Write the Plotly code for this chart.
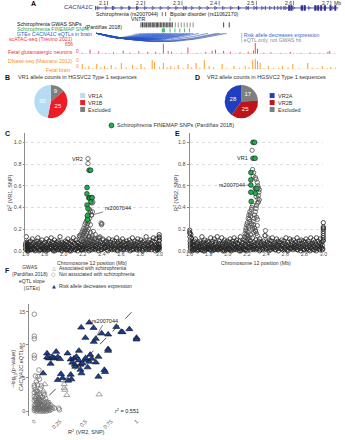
import numpy as np
import plotly.graph_objects as go

W, H = 345, 440
FONT = "Liberation Sans, Arial, Helvetica, sans-serif"


def px(x):
    return x / W


def py(y):
    return 1 - y / H


# ---------------- Panel A data ----------------
scale_ticks = [2.1, 2.2, 2.3, 2.4, 2.5, 2.6, 2.7]
gene_span = [2.067, 2.720]
gene_exons = [2.068, 2.113, 2.158, 2.179, 2.311, 2.452, 2.478, 2.501, 2.524, 2.548, 2.566, 2.574]
gene_big_exons = [2.588, 2.594, 2.623, 2.630, 2.658, 2.666, 2.674, 2.684, 2.699, 2.712]
gwas_marks = [2.247, 2.256]
vntr_mark = [2.268]
gwas_snps = [2.190, 2.194, 2.198, 2.201, 2.205, 2.209, 2.212, 2.216, 2.220, 2.223, 2.227, 2.231,
             2.234, 2.238, 2.242, 2.246, 2.250, 2.254, 2.258, 2.262, 2.266, 2.270, 2.274]
gwas_snps_sparse = [2.282, 2.290, 2.298, 2.306, 2.314, 2.322, 2.330]
gwas_snps_far = [2.412, 2.427]
finemap_snps = [2.247, 2.249, 2.251, 2.253, 2.268, 2.281, 2.294, 2.307, 2.320]
eqtl_anchor = 2.071
eqtl_blue = [2.190, 2.197, 2.204, 2.210, 2.216, 2.222, 2.228, 2.234, 2.240, 2.246, 2.252, 2.258,
             2.264, 2.270, 2.276, 2.283, 2.290, 2.298, 2.306, 2.314, 2.322, 2.330, 2.345, 2.370,
             2.400, 2.420]
eqtl_gray = [2.180, 2.392, 2.404, 2.412]

atac_pos = [2.032, 2.053, 2.076, 2.095, 2.116, 2.142, 2.160, 2.184, 2.208, 2.229, 2.250, 2.263,
            2.272, 2.299, 2.316, 2.340, 2.364, 2.381, 2.390, 2.412, 2.430, 2.456, 2.478, 2.492,
            2.497, 2.503, 2.520, 2.539, 2.565, 2.591, 2.620, 2.644, 2.670, 2.692, 2.697]
atac_val = [60, 250, 140, 50, 90, 180, 70, 140, 110, 120, 600, 160, 120, 60, 380, 50, 110, 180,
            240, 170, 110, 90, 120, 200, 640, 300, 60, 90, 50, 110, 50, 80, 50, 110, 170]
atac_minor_pos = [2.040, 2.065, 2.085, 2.105, 2.125, 2.150, 2.175, 2.195, 2.215, 2.240, 2.285,
                  2.310, 2.330, 2.350, 2.372, 2.400, 2.420, 2.445, 2.465, 2.485, 2.515, 2.530,
                  2.550, 2.580, 2.600, 2.610, 2.630, 2.655, 2.680, 2.710]
atac_minor_val = [20, 30, 15, 25, 20, 35, 15, 30, 25, 40, 20, 30, 15, 25, 20, 30, 15, 20, 25, 30,
                  20, 15, 25, 20, 30, 15, 20, 25, 15, 20]
dnase_pos = [2.032, 2.050, 2.071, 2.092, 2.110, 2.137, 2.167, 2.190, 2.220, 2.226, 2.250, 2.270,
             2.290, 2.316, 2.338, 2.360, 2.373, 2.408, 2.440, 2.470, 2.490, 2.497, 2.503, 2.510,
             2.532, 2.570, 2.598, 2.638, 2.677, 2.700]
dnase_val = [0.5, 0.3, 0.5, 0.3, 0.4, 0.6, 0.4, 0.5, 0.9, 0.7, 0.6, 0.3, 0.4, 0.5, 0.6, 0.9, 0.3,
             0.5, 0.3, 0.3, 0.9, 1.0, 0.8, 0.6, 0.3, 0.3, 0.5, 0.6, 0.3, 0.2]
dnase_minor_pos = [2.040, 2.060, 2.082, 2.100, 2.122, 2.150, 2.178, 2.200, 2.240, 2.260, 2.280,
                   2.303, 2.326, 2.348, 2.385, 2.420, 2.455, 2.480, 2.520, 2.545, 2.560, 2.585,
                   2.615, 2.650, 2.665, 2.690, 2.712]
dnase_minor_val = [0.15, 0.1, 0.2, 0.12, 0.15, 0.2, 0.1, 0.15, 0.25, 0.2, 0.15, 0.1, 0.2, 0.15,
                   0.2, 0.1, 0.15, 0.2, 0.12, 0.1, 0.15, 0.2, 0.1, 0.15, 0.12, 0.1, 0.15]

# ---------------- Panels B / D ----------------
vr1_labels = ["Excluded", "VR1B", "VR1A"]
vr1_counts = [9, 25, 30]
vr2_labels = ["Excluded", "VR2B", "VR2A"]
vr2_counts = [17, 25, 28]

# ---------------- Panels C / E (SNP positions in kb, R2 in hundredths) ----------------
BG_KB = """
1601 1604 1609 1612 1618 1621 1627 1633 1636 1641 1645 1652 1655 1661 1668 1672 1676 1683 1688 1691
1697 1704 1708 1713 1719 1722 1729 1734 1738 1745 1749 1753 1760 1764 1771 1775 1779 1786 1790 1796
1801 1805 1812 1817 1821 1828 1832 1838 1843 1847 1853 1859 1862 1869 1874 1878 1885 1889 1894 1900
1903 1910 1915 1919 1926 1930 1936 1941 1945 1952 1956 1961 1967 1972 1977 1983 1987 1993 1998 2003
2009 2014 2018 2024 2029 2033 2040 2044 2050 2055 2059 2066 2070 2076 2081 2085 2092 2097 2101 2107
2112 2117 2123 2128 2132 2139 2143 2149 2154 2158 2165 2169 2175 2180 2186 2191 2196 2202 2207 2213
2218 2224 2229 2235 2240 2246 2251 2257 2262 2268 2273 2279 2284 2290 2295 2301 2306 2312 2317 2323
2328 2334 2339 2345 2350 2356 2361 2367 2372 2378 2383 2389 2394 2400 2405 2411 2416 2422 2427 2433
2438 2444 2449 2455 2460 2466 2471 2477 2482 2488 2493 2499 2504 2510 2515 2521 2526 2532 2537 2543
2548 2554 2559 2565 2570 2576 2581 2587 2592 2598 2603 2609 2614 2620 2625 2631 2636 2642 2647 2653
2658 2664 2669 2675 2680 2686 2691 2697 2702 2708 2713 2719 2724 2730 2735 2741 2746 2752 2757 2763
2768 2774 2779 2785 2790 2796 2801 2807 2812 2818 2823 2829 2834 2840 2845 2851 2856 2862 2867 2873
2878 2884 2889 2895 2900 2906 2911 2917 2922 2928 2933 2939 2944 2950 2955 2961 2966 2972 2977 2983
2988 2993 2997 2999 2999 2999 2999 2999 1602 1603 1605 1607 1610 1614 1616 1619 2999 2998 2999 2998
1606 1624 1648 1679 1700 1726 1756 1782 1809 1835 1866 1891 1922 1948 1979 2006 2036 2062 2088 2120
2146 2172 2199 2232 2265 2298 2331 2364 2397 2430 2463 2496 2529 2562 2595 2628 2661 2694 2727 2760
2793 2826 2859 2892 2925 2958 2980 2991 1630 1658 1694 1742 1793 1850 1907 1964 2021 2078 2135 2187
"""
VR1_BG = """
5 2 13 4 7 1 6 3 8 2 5 9 1 4 6 11 3 7 2 5
8 1 6 4 9 3 12 2 7 5 1 8 4 6 10 2 5 3 7 1
4 8 2 6 11 3 5 1 7 9 2 4 6 12 3 8 1 5 7 2
10 4 6 3 8 1 5 9 2 7 4 13 3 6 1 8 5 2 7 4
6 3 9 1 5 8 2 11 4 7 3 6 1 9 5 2 8 4 12 3
7 1 6 10 2 5 8 3 7 4 14 2 6 9 1 5 3 8 2 6
4 7 1 10 5 3 8 2 6 13 4 1 7 5 9 3 6 2 8 11
4 1 5 7 3 9 2 6 12 4 8 1 5 3 7 10 2 6 4 8
3 5 9 1 7 4 11 2 6 8 3 5 1 10 4 7 2 9 5 3
6 12 1 8 4 7 2 5 9 3 6 1 11 4 8 2 5 7 3 6
9 1 4 7 2 10 5 3 8 1 6 12 4 2 7 5 9 3 6 1
8 11 4 2 5 7 3 10 6 1 8 4 2 9 5 3 7 13 1 6
4 8 2 5 10 3 7 1 6 9 4 12 2 8 5 3 11 6 1 4
2 6 3 15 12 9 6 3 7 4 1 5 2 8 3 6 10 4 1 13
1 0 2 1 0 3 1 2 0 1 2 0 3 1 0 2 1 0 2 1
0 3 1 2 0 1 2 0 1 3 0 2 1 0 2 1 3 0 1 2
1 0 2 1 3 0 1 2 0 1 2 0 1 3 0 2 1 0 2 1
"""
VR2_BG = """
19 16 3 7 12 2 5 8 1 6 4 9 2 11 5 3 7 1 8 4
6 2 9 4 1 7 13 3 5 8 2 6 10 4 1 7 3 9 5 2
8 3 6 1 12 4 7 2 9 5 3 11 1 6 8 2 4 13 3 7
1 9 5 3 7 2 12 4 6 1 8 3 10 5 2 7 4 9 1 6
3 8 2 11 5 1 7 4 9 3 6 12 2 5 8 1 10 4 7 3
6 2 9 4 13 1 5 8 3 7 2 10 4 6 1 9 5 3 11 7
2 6 4 9 1 7 3 12 5 2 8 4 6 1 10 3 7 5 2 9
4 11 1 6 8 3 5 2 9 7 4 14 3 6 1 8 5 2 7 10
3 6 1 9 4 12 2 7 5 3 8 1 6 11 4 2 9 5 7 3
8 2 5 10 1 6 4 9 3 7 2 12 5 1 8 4 6 3 11 2
5 9 3 7 1 10 4 6 2 8 5 3 12 1 7 4 9 2 6 3
10 4 7 2 9 5 1 8 3 11 6 2 4 9 1 7 5 3 12 6
2 7 4 10 5 1 8 3 6 12 2 5 9 4 7 1 11 6 3 8
5 2 9 26 21 18 14 10 17 13 9 6 4 15 11 7 20 16 22 12
0 2 1 0 3 1 0 2 1 0 3 1 2 0 1 2 0 1 3 0
2 1 0 3 1 2 0 1 2 0 3 1 0 2 1 0 2 3 1 0
1 2 0 1 0 2 3 1 0 2 1 0 3 1 2 0 1 2 0 1
"""
bg_pos = [int(v) / 1000 for v in BG_KB.split()]
vr1_bg = [int(v) / 100 for v in VR1_BG.split()]
vr2_bg = [int(v) / 100 for v in VR2_BG.split()]

# peak-region SNPs (Mb, R2)
c_peak_pts = [(2.254, 0.85), (2.254, 0.805), (2.298, 0.44), (2.305, 0.45), (2.390, 0.257),
              (2.400, 0.25), (2.395, 0.24), (2.27, 0.38), (2.28, 0.36), (2.26, 0.34), (2.29, 0.33),
              (2.25, 0.31), (2.27, 0.30), (2.24, 0.28), (2.26, 0.27), (2.23, 0.26), (2.25, 0.25),
              (2.22, 0.24), (2.28, 0.24), (2.24, 0.22), (2.21, 0.21), (2.23, 0.20), (2.26, 0.20),
              (2.20, 0.19), (2.22, 0.18), (2.25, 0.18), (2.19, 0.17), (2.21, 0.16), (2.24, 0.16),
              (2.28, 0.17), (2.31, 0.18), (2.18, 0.15), (2.20, 0.14), (2.23, 0.14), (2.26, 0.13),
              (2.30, 0.14), (2.33, 0.15), (2.17, 0.13), (2.22, 0.12), (2.25, 0.11), (2.29, 0.12),
              (2.32, 0.11), (2.36, 0.12), (2.19, 0.11), (2.27, 0.10), (2.34, 0.10), (2.38, 0.13),
              (2.41, 0.11), (2.44, 0.09), (2.21, 0.09), (2.24, 0.08), (2.31, 0.09), (2.292, 0.33),
              (2.30, 0.36)]
c_fm_pts = [(2.266, 0.743), (2.281, 0.743), (2.244, 0.584), (2.242, 0.526), (2.262, 0.487),
            (2.272, 0.487), (2.290, 0.490), (2.298, 0.490), (2.284, 0.450), (2.244, 0.422),
            (2.254, 0.390), (2.248, 0.325), (2.250, 0.287)]
e_peak_pts = [(2.254, 0.927), (2.265, 0.69), (2.288, 0.675), (2.295, 0.66), (2.308, 0.63),
              (2.314, 0.60), (2.32, 0.58), (2.33, 0.565), (2.325, 0.54), (2.32, 0.51), (2.315, 0.48),
              (2.308, 0.44), (2.30, 0.42), (2.295, 0.39), (2.288, 0.36), (2.28, 0.33), (2.275, 0.30),
              (2.265, 0.27), (2.26, 0.42), (2.25, 0.40), (2.245, 0.38), (2.23, 0.36), (2.235, 0.34),
              (2.24, 0.32), (2.22, 0.33), (2.213, 0.30), (2.225, 0.29), (2.23, 0.27), (2.205, 0.26),
              (2.197, 0.24), (2.21, 0.23), (2.22, 0.22), (2.19, 0.21), (2.187, 0.19), (2.20, 0.18),
              (2.215, 0.17), (2.18, 0.16), (2.195, 0.15), (2.21, 0.14), (2.20, 0.13), (2.175, 0.13),
              (2.185, 0.12), (2.25, 0.25), (2.255, 0.22), (2.26, 0.20), (2.27, 0.24), (2.28, 0.21),
              (2.29, 0.18), (2.30, 0.16), (2.31, 0.14), (2.27, 0.17), (2.24, 0.15), (2.23, 0.12),
              (2.288, 0.186), (2.308, 0.233), (2.394, 0.186), (2.39, 0.14), (2.42, 0.12),
              (2.31, 0.29), (2.30, 0.31), (2.296, 0.50), (2.33, 0.47), (2.32, 0.45), (2.258, 0.75),
              (2.27, 0.72)]
e_fm_pts = [(2.264, 1.0), (2.280, 1.0), (2.264, 0.853), (2.285, 0.853), (2.241, 0.722),
            (2.241, 0.654), (2.241, 0.606), (2.288, 0.575), (2.303, 0.575), (2.288, 0.530),
            (2.241, 0.540), (2.245, 0.456)]

# ---------------- Panel F (R2 VR2-SNP, -log10 p) ----------------
f_blue_pts = [(0.457, 12.6), (0.536, 13.35), (0.498, 11.05), (0.578, 12.55), (0.657, 11.7),
              (0.72, 11.55), (0.80, 12.7), (0.848, 11.95), (0.86, 11.9), (0.927, 12.35),
              (0.997, 11.05), (0.997, 10.8), (0.58, 10.45), (0.60, 10.9), (0.72, 9.35),
              (0.72, 9.1), (0.435, 9.1), (0.124, 8.7), (0.213, 8.95), (0.143, 7.95), (0.175, 8.2),
              (0.197, 7.95), (0.229, 8.15), (0.251, 7.85), (0.124, 8.1), (0.159, 7.15),
              (0.324, 8.7), (0.355, 7.8), (0.387, 7.95), (0.41, 8.2), (0.37, 7.3), (0.395, 7.0),
              (0.40, 6.7), (0.435, 7.65), (0.45, 7.0), (0.45, 6.25), (0.498, 7.7), (0.536, 7.45),
              (0.545, 8.5), (0.625, 8.2), (0.625, 5.2), (0.683, 6.2), (0.086, 5.7), (0.26, 5.6),
              (0.276, 5.0), (0.229, 4.7), (0.355, 5.5), (0.362, 4.8), (0.46, 5.7), (0.52, 6.6),
              (0.60, 7.35), (0.33, 4.6), (0.47, 7.2), (0.56, 7.9), (0.69, 5.9), (0.50, 8.0)]
f_assoc_pts = [(0.102, 4.05), (0.292, 4.05), (0.292, 3.5), (0.298, 3.2), (0.317, 2.4),
               (0.632, 2.5), (0.09, 3.0)]
f_ns_pts = [(0.00, 0.1), (0.01, 0.3), (0.02, 0.5), (0.00, 0.8), (0.03, 0.2), (0.04, 0.6),
            (0.01, 1.0), (0.02, 1.3), (0.05, 0.4), (0.06, 0.9), (0.00, 1.6), (0.03, 1.1),
            (0.07, 0.2), (0.08, 0.7), (0.04, 1.5), (0.01, 1.9), (0.09, 0.4), (0.05, 1.2),
            (0.02, 2.2), (0.06, 1.7), (0.10, 0.1), (0.11, 0.6), (0.03, 2.5), (0.07, 1.4),
            (0.00, 2.8), (0.08, 1.0), (0.12, 0.3), (0.04, 2.0), (0.09, 1.6), (0.13, 0.8),
            (0.05, 2.6), (0.10, 1.2), (0.01, 3.2), (0.14, 0.2), (0.06, 2.3), (0.11, 1.9),
            (0.02, 0.0), (0.07, 0.0), (0.12, 1.4), (0.15, 0.5), (0.03, 3.0), (0.08, 2.1),
            (0.13, 1.1), (0.16, 0.9), (0.04, 0.2), (0.05, 0.0), (0.09, 0.0), (0.01, 0.6),
            (0.06, 0.5), (0.03, 0.8), (0.00, 0.4), (0.02, 1.6), (0.04, 1.0), (0.10, 0.7),
            (0.07, 0.9), (0.11, 0.3), (0.17, 0.3), (0.14, 1.3), (0.08, 0.4), (0.05, 1.8),
            (0.00, 2.2), (0.12, 0.0), (0.15, 0.1), (0.18, 0.6), (0.06, 3.4), (0.09, 2.7),
            (0.02, 2.9), (0.10, 2.4), (0.00, 3.6), (0.03, 1.7), (0.00, 14.6), (0.00, 11.3),
            (0.00, 10.9), (0.00, 8.4), (0.00, 8.0), (0.045, 6.2), (0.01, 5.3), (0.035, 5.2),
            (0.02, 4.4), (0.05, 4.8), (0.00, 3.9), (0.245, 0.2), (0.13, 0.2), (0.14, 1.0),
            (0.197, 0.45), (0.238, 0.45), (0.03, 4.0), (0.07, 3.8)]
fit_intercept, fit_slope, fit_r2 = 0.1, 15.6, 0.551
fit_xrange = [0.022, 0.99]

# ---------------- colours ----------------
GENE = "#2e3192"
GREEN = "#1fae4b"
BLUE_ARC = "#2150c8"
RED = "#e8363a"
ORANGE = "#f7931e"
C_VR1A, C_VR1B, C_EXC = "#b5dcf3", "#ee1c24", "#7f7f7f"
C_VR2A, C_VR2B = "#1f3fbf", "#c0141b"
F_BLUE = "#1c3f94"


def unzip(pts):
    return [p[0] for p in pts], [p[1] for p in pts]


def vsegs(xs, y0, y1):
    X, Y = [], []
    for x in xs:
        X += [x, x, None]
        Y += [y0, y1, None]
    return X, Y


def spikes(xs, vals):
    X, Y = [], []
    for x, v in zip(xs, vals):
        X += [x, x, None]
        Y += [0, v, None]
    return X, Y


fig = go.Figure()
A = dict(xaxis="x4", yaxis="y4", hoverinfo="skip", showlegend=False)


def line_trace(X, Y, color, width, **kw):
    d = dict(A)
    d.update(kw)
    fig.add_trace(go.Scatter(x=X, y=Y, mode="lines", line=dict(color=color, width=width), **d))


# scale
X, Y = vsegs(scale_ticks, 0.8, 5.4)
line_trace(X, Y, "#333", 0.6)
# gene
line_trace(gene_span, [8, 8], GENE, 0.8)
chev = np.arange(gene_span[0] + 0.008, gene_span[1] - 0.004, 0.021)
fig.add_trace(go.Scatter(x=chev, y=[8] * len(chev), mode="markers",
                         marker=dict(symbol="triangle-right-open", size=3, color=GENE,
                                     line=dict(width=0.6)), **A))
X, Y = vsegs(gene_exons, 6, 10)
line_trace(X, Y, GENE, 0.9)
X, Y = vsegs(gene_big_exons, 5.2, 10.8)
line_trace(X, Y, GENE, 2.0)
# SNP marks
X, Y = vsegs(gwas_marks, 12.2, 16.2)
line_trace(X, Y, "#333", 0.7)
X, Y = vsegs(vntr_mark, 17.5, 21.5)
line_trace(X, Y, "#777", 0.7)
X, Y = vsegs(gwas_snps, 22.5, 27.5)
line_trace(X, Y, "#111", 0.8)
X, Y = vsegs(gwas_snps_sparse, 22.5, 27.5)
line_trace(X, Y, "#777", 0.8)
X, Y = vsegs(gwas_snps_far, 22.5, 27.5)
line_trace(X, Y, "#111", 0.8)
X, Y = vsegs(finemap_snps, 28.5, 32.5)
line_trace(X, Y, GREEN, 0.8)

# eQTL arcs
t = np.linspace(0, 1, 30)


def arcs(ends):
    X, Y = [], []
    for b in ends:
        span = (b - eqtl_anchor) * 381
        depth = 2.5 + 6.0 * span / 135
        X += list(eqtl_anchor + (b - eqtl_anchor) * t) + [None]
        Y += list(33.5 + depth * np.sin(np.pi * t)) + [None]
    return X, Y


X, Y = arcs(eqtl_gray)
line_trace(X, Y, "#9a9a9a", 0.6)
X, Y = arcs(eqtl_blue)
line_trace(X, Y, BLUE_ARC, 0.6)

# tracks
fig.add_trace(go.Scatter(x=[2.024, 2.715], y=[0, 0], mode="lines", line=dict(color="#f5a3a3", width=0.5),
                         xaxis="x4", yaxis="y5", hoverinfo="skip", showlegend=False))
X, Y = spikes(atac_minor_pos, atac_minor_val)
fig.add_trace(go.Scatter(x=X, y=Y, mode="lines", line=dict(color=RED, width=0.7),
                         xaxis="x4", yaxis="y5", hoverinfo="skip", showlegend=False))
X, Y = spikes(atac_pos, atac_val)
fig.add_trace(go.Scatter(x=X, y=Y, mode="lines", line=dict(color=RED, width=0.9),
                         xaxis="x4", yaxis="y5", hoverinfo="skip", showlegend=False))
fig.add_trace(go.Scatter(x=[2.024, 2.715], y=[0, 0], mode="lines", line=dict(color="#fbc98a", width=0.5),
                         xaxis="x4", yaxis="y6", hoverinfo="skip", showlegend=False))
X, Y = spikes(dnase_minor_pos, dnase_minor_val)
fig.add_trace(go.Scatter(x=X, y=Y, mode="lines", line=dict(color=ORANGE, width=0.7),
                         xaxis="x4", yaxis="y6", hoverinfo="skip", showlegend=False))
X, Y = spikes(dnase_pos, dnase_val)
fig.add_trace(go.Scatter(x=X, y=Y, mode="lines", line=dict(color=ORANGE, width=0.9),
                         xaxis="x4", yaxis="y6", hoverinfo="skip", showlegend=False))

# pies
for vals, labs, cols, dom in [
    (vr1_counts, vr1_labels, [C_EXC, C_VR1B, C_VR1A], dict(x=[px(31), px(65)], y=[py(119), py(85)])),
    (vr2_counts, vr2_labels, [C_EXC, C_VR2B, C_VR2A], dict(x=[px(226), px(260)], y=[py(119), py(85)])),
]:
    fig.add_trace(go.Pie(values=vals, labels=labs, sort=False, direction="clockwise", rotation=0,
                         marker=dict(colors=cols, line=dict(width=0)), textinfo="value",
                         textposition="inside", insidetextorientation="horizontal",
                         textfont=dict(size=6, color="white", family=FONT), domain=dom,
                         hoverinfo="skip", showlegend=False))


def pts(xs, ys, xa, ya, symbol, size, fill, lc, lw):
    fig.add_trace(go.Scatter(x=xs, y=ys, mode="markers", xaxis=xa, yaxis=ya, cliponaxis=False,
                             hoverinfo="skip", showlegend=False,
                             marker=dict(symbol=symbol, size=size, color=fill,
                                         line=dict(color=lc, width=lw))))


BG_COL = "#262626"
# Panel C
pts(bg_pos, vr1_bg, "x", "y", "circle-open", 4.3, BG_COL, BG_COL, 0.8)
cx, cy = unzip(c_peak_pts)
pts(cx, cy, "x", "y", "circle-open", 4.3, "#4a4a4a", "#4a4a4a", 0.75)
cfx, cfy = unzip(c_fm_pts)
pts(cfx, cfy, "x", "y", "circle", 4.8, GREEN, "#1a1a1a", 0.6)
# Panel E
pts(bg_pos, vr2_bg, "x2", "y2", "circle-open", 4.3, BG_COL, BG_COL, 0.8)
ex, ey = unzip(e_peak_pts)
pts(ex, ey, "x2", "y2", "circle-open", 4.3, "#4a4a4a", "#4a4a4a", 0.75)
efx, efy = unzip(e_fm_pts)
pts(efx, efy, "x2", "y2", "circle", 4.8, GREEN, "#1a1a1a", 0.6)
# Panel F
fx = np.array(fit_xrange)
fig.add_trace(go.Scatter(x=fx, y=fit_intercept + fit_slope * fx, mode="lines", xaxis="x3", yaxis="y3",
                         line=dict(color="#222", width=0.8, dash="dash"), hoverinfo="skip", showlegend=False))
nx, ny = unzip(f_ns_pts)
pts(nx, ny, "x3", "y3", "circle-open", 4.6, "#6a6a6a", "#6a6a6a", 0.7)
ax_, ay_ = unzip(f_assoc_pts)
pts(ax_, ay_, "x3", "y3", "triangle-up-open", 5.5, "#8a8a8a", "#8a8a8a", 0.8)
bx, by = unzip(f_blue_pts)
pts(bx, by, "x3", "y3", "triangle-up", 6.2, F_BLUE, "#111", 0.6)

# ---------------- annotations ----------------
ann = []
shapes = []


def T(x, y, text, size=5.5, color="#222", xanchor="left", yanchor="middle", **kw):
    d = dict(x=px(x), y=py(y), xref="paper", yref="paper", text=text, showarrow=False,
             font=dict(size=size, color=color, family=kw.pop("family", FONT)),
             xanchor=xanchor, yanchor=yanchor, borderpad=0)
    d.update(kw)
    ann.append(d)


# panel letters
for lx, ly, L in [(30, 4, "A"), (4, 78, "B"), (4, 134, "C"), (198, 78, "D"), (178, 134, "E"), (4, 272, "F")]:
    T(lx, ly, "<b>%s</b>" % L, size=7, color="#111", xanchor="center")

# Panel A text
AS = 5.2
T(92, 7.5, "<i>CACNA1C</i>", size=6, color=GENE, xanchor="right")
for tk in scale_ticks:
    ann.append(dict(x=tk, y=py(3.2), xref="x4", yref="paper", text="%.1f" % tk, showarrow=False,
                    xanchor="right", yanchor="middle", xshift=-1, borderpad=0,
                    font=dict(size=AS, color="#333", family=FONT)))
T(341, 3.2, "Mb", xanchor="center", color="#333", size=AS)
T(160, 14.2, "Schizophrenia (rs2007044)", xanchor="right", size=AS)
T(169, 14.2, "Bipolar disorder (rs11062170)", xanchor="left", size=AS)
T(137, 19.5, "VNTR", xanchor="center", size=AS)
T(12, 24.3, "Schizophrenia GWAS SNPs", color="#111", size=AS)
T(12, 29.5, "Schizophrenia FINEMAP SNPs", color="#2ca64a", size=AS)
T(82, 27.0, "(Pardiñas 2018)", color="#222", size=AS)
T(12, 34.5, "GTEx <i>CACNA1C</i> eQTLs in brain", color="#2d5bd0", size=AS)
T(242, 35, "| Risk allele decreases expression", color="#3a66d0", size=AS)
T(242, 40.5, "| eQTL only, not GWAS hit", color="#8a8a8a", size=AS)
T(72, 39.5, "scATAC-seq (Trevino 2021)", color=RED, xanchor="right", size=AS)
T(72, 44.3, "656", color=RED, xanchor="right", size=4.8)
T(72, 52.5, "Fetal glutamatergic neurons", color=RED, xanchor="right", size=AS)
T(75, 52, "0", color=RED, xanchor="center", size=4.8)
T(72, 61, "DNase-seq (Maurano 2012)", color=ORANGE, xanchor="right", size=AS)
T(75, 60.5, "0", color=ORANGE, xanchor="center", size=4.8)
T(75, 66.5, "0", color=ORANGE, xanchor="center", size=4.8)
T(56, 70.5, "Fetal brain", color=ORANGE, xanchor="center", size=AS)

# Panels B / D
T(13, 77.5, "VR1 allele counts in HGSVC2 Type 1 sequences", color="#333")
T(207, 77.5, "VR2 allele counts in HGSVC2 Type 1 sequences", color="#333")
for (sx, names, cols) in [(78, ["VR1A", "VR1B", "Excluded"], [C_VR1A, C_VR1B, C_EXC]),
                          (272, ["VR2A", "VR2B", "Excluded"], [C_VR2A, C_VR2B, C_EXC])]:
    for i, (nm, cl) in enumerate(zip(names, cols)):
        yy = 96 + i * 7
        shapes.append(dict(type="rect", xref="paper", yref="paper", x0=px(sx), x1=px(sx + 5),
                           y0=py(yy + 2.5), y1=py(yy - 2.5), fillcolor=cl, line=dict(width=0)))
        T(sx + 7, yy, nm, color="#333")

# C/E legend
shapes.append(dict(type="circle", xref="paper", yref="paper", x0=px(107.5), x1=px(112.5),
                   y0=py(128.5), y1=py(123.5), fillcolor=GREEN, line=dict(color="#1a1a1a", width=0.6)))
T(115, 126, "Schizophrenia FINEMAP SNPs (Pardiñas 2018)", color="#333")

# axis titles
T(6, 193, "R<sup>2</sup> (VR1, SNP)", textangle=-90, xanchor="center", color="#333")
T(176, 193, "R<sup>2</sup> (VR2, SNP)", textangle=-90, xanchor="center", color="#333")
T(90, 263.8, "Chromosome 12 position (Mb)", xanchor="center", color="#333", size=5.2)
T(258, 263.8, "Chromosome 12 position (Mb)", xanchor="center", color="#333", size=5.2)
T(13, 370, "−log<sub>10</sub>(p−value)<br><i>CACNA1C</i> eQTLs", textangle=-90, xanchor="center", color="#333")
T(84, 434, "R<sup>2</sup> (VR2, SNP)", xanchor="center", color="#333")

# point labels
lab_font = dict(size=5.5, color="#222", family=FONT)
ann.append(dict(x=c_peak_pts[0][0], y=c_peak_pts[0][1], xref="x", yref="y", text="VR2", showarrow=False,
                xanchor="right", xshift=-3, font=lab_font))
ann.append(dict(x=c_peak_pts[52][0], y=c_peak_pts[52][1], xref="x", yref="y", text="rs2007044",
                showarrow=True, arrowhead=0, arrowwidth=0.6, arrowcolor="#333", ax=26, ay=-7,
                standoff=2, font=lab_font))
ann.append(dict(x=e_fm_pts[2][0], y=e_fm_pts[2][1], xref="x2", yref="y2", text="VR1", showarrow=False,
                xanchor="right", xshift=-3, font=lab_font))
ann.append(dict(x=e_fm_pts[6][0], y=e_fm_pts[6][1], xref="x2", yref="y2", text="rs2007044",
                showarrow=True, arrowhead=0, arrowwidth=0.6, arrowcolor="#333", ax=-19, ay=0,
                standoff=2, font=lab_font))
ann.append(dict(x=f_blue_pts[12][0], y=f_blue_pts[12][1], xref="x3", yref="y3", text="rs2007044",
                showarrow=True, arrowhead=0, arrowwidth=0.6, arrowcolor="#333", ax=11, ay=-21,
                standoff=2, font=lab_font))
T(139, 413, "<i>r</i><sup>2</sup> = %.3f" % fit_r2, xanchor="right", color="#222")

# F legend
T(27, 272, "GWAS<br>(Pardiñas 2018)", xanchor="center", color="#333", align="center", size=5)
T(29, 286, "eQTL slope<br>(GTEx)", xanchor="center", color="#333", align="center", size=5)
T(51, 269.5, "△", xanchor="center", color="#777", size=5, family="DejaVu Sans")
T(55.5, 269.5, "Associated with schizophrenia", color="#333", size=5)
T(51, 275.5, "○", xanchor="center", color="#777", size=5, family="DejaVu Sans")
T(55.5, 275.5, "Not associated with schizophrenia", color="#333", size=5)
T(51, 287, "▲", xanchor="center", color=F_BLUE, size=5, family="DejaVu Sans")
T(55.5, 287, "Risk allele decreases expression", color="#333", size=5)

# ---------------- axes ----------------
TF = dict(size=5.5, color="#4d4d4d", family=FONT)
xpos_ticks = [1.6, 1.8, 2.0, 2.2, 2.4, 2.6, 2.8, 3.0]
r2_ticks = [0.0, 0.2, 0.4, 0.6, 0.8, 1.0]


def pos_x(dom, anchor):
    return dict(domain=dom, range=[1.6, 3.0], anchor=anchor, tickvals=xpos_ticks, tickformat=".1f",
                showgrid=False, zeroline=False, showline=False, ticks="", ticklabelstandoff=-2,
                tickfont=dict(size=5.2, color="#4d4d4d", family=FONT))


def r2_y(anchor):
    return dict(domain=[py(253), py(134)], range=[-0.0092, 1.0826], anchor=anchor, tickvals=r2_ticks,
                tickformat=".1f", showgrid=True, gridcolor="#dedede", griddash="dot", gridwidth=0.6,
                zeroline=False, showline=True, linecolor="#8c8c8c", linewidth=0.8, ticks="outside",
                ticklen=2, tickcolor="#8c8c8c", tickfont=TF)


hidden = dict(visible=False, showgrid=False, zeroline=False, fixedrange=True)

fig.update_layout(
    width=W, height=H, autosize=False,
    margin=dict(l=0, r=0, t=0, b=0, pad=0),
    paper_bgcolor="white", plot_bgcolor="rgba(0,0,0,0)",
    showlegend=False,
    font=dict(family=FONT, size=5.5, color="#333"),
    xaxis=pos_x([px(22), px(159)], "y"),
    yaxis=r2_y("x"),
    xaxis2=pos_x([px(190), px(327)], "y2"),
    yaxis2=r2_y("x2"),
    xaxis3=dict(domain=[px(26), px(140.2)], range=[-0.048, 1.04], anchor="y3",
                tickvals=[0, 0.25, 0.5, 0.75, 1], ticktext=["0", "0.25", "0.5", "0.75", "1"],
                tickangle=-45, showgrid=False, zeroline=False, showline=False, ticks="", tickfont=TF),
    yaxis3=dict(domain=[py(418), py(305)], range=[-0.75, 16.2], anchor="x3", tickvals=[0, 5, 10, 15],
                showgrid=False, zeroline=False, showline=True, linecolor="#8c8c8c", linewidth=0.8,
                ticks="outside", ticklen=2, tickcolor="#8c8c8c", tickfont=TF),
    xaxis4=dict(domain=[0, 1], range=[1.8218, 2.7273], anchor="y4", **hidden),
    yaxis4=dict(domain=[0, 1], range=[440, 0], anchor="x4", **hidden),
    yaxis5=dict(domain=[py(54), py(43)], range=[0, 656], anchor="x4", **hidden),
    yaxis6=dict(domain=[py(69.5), py(59)], range=[0, 1], anchor="x4", **hidden),
    annotations=ann,
    shapes=shapes,
)

fig.write_html("out.html", config={"displayModeBar": False},
               post_script="document.body.style.margin='0';document.body.style.overflow='hidden';")
